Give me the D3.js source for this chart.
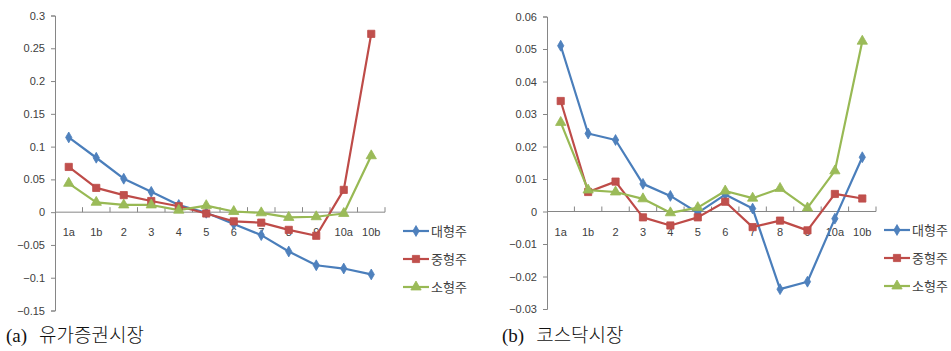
<!DOCTYPE html>
<html>
<head>
<meta charset="utf-8">
<script src="https://cdn.jsdelivr.net/npm/d3@7/dist/d3.min.js"></script>
<style>
  html, body { margin: 0; padding: 0; background: #fff; }
  svg { display: block; }
</style>
</head>
<body>
<svg id="chart" width="951" height="351"></svg>
<script>
// ---- data ----
const categories = ["1a", "1b", "2", "3", "4", "5", "6", "7", "8", "9", "10a", "10b"];
const seriesNames = ["대형주", "중형주", "소형주"];

// (a) 유가증권시장
const kospiLarge = [0.114, 0.083, 0.051, 0.031, 0.011, -0.001, -0.018, -0.035, -0.060, -0.081, -0.086, -0.095];
const kospiMid   = [0.069, 0.037, 0.026, 0.017, 0.009, -0.002, -0.014, -0.016, -0.027, -0.036, 0.034, 0.272];
const kospiSmall = [0.044, 0.015, 0.011, 0.011, 0.003, 0.010, 0.001, -0.001, -0.008, -0.007, -0.002, 0.086];
const kospiTicks = [0.3, 0.25, 0.2, 0.15, 0.1, 0.05, 0, -0.05, -0.1, -0.15];

// (b) 코스닥시장
const kosdaqLarge = [0.051, 0.024, 0.022, 0.0085, 0.0048, -0.0004, 0.0052, 0.0009, -0.0239, -0.0216, -0.0022, 0.0167];
const kosdaqMid   = [0.034, 0.006, 0.0092, -0.0018, -0.0043, -0.0018, 0.0030, -0.0048, -0.0028, -0.0058, 0.0054, 0.0040];
const kosdaqSmall = [0.0274, 0.0066, 0.0060, 0.0039, -0.0004, 0.0012, 0.0063, 0.0041, 0.0071, 0.0011, 0.0125, 0.0524];
const kosdaqTicks = [0.06, 0.05, 0.04, 0.03, 0.02, 0.01, 0, -0.01, -0.02, -0.03];

const captionLabels = ["(a)", "(b)"];
const captionTitles = ["유가증권시장", "코스닥시장"];

// ---- styles ----
const lineColors = ["#4A7EBB", "#BE4B48", "#98B954"];
const markerColors = ["#4F81BD", "#C0504D", "#9BBB59"];
const markerTypes = [d3.symbolDiamond, d3.symbolSquare, d3.symbolTriangle];
const markerSizes = [34, 52, 46];
const axisColor = "#868686";
const tickFont = "'Liberation Sans', Arial, sans-serif";

const svg = d3.select("#chart");

function drawPanel(opts) {
  const g = svg.append("g");
  const x = d3.scaleBand().domain(categories).range([opts.x0, opts.x1]);
  const y = d3.scaleLinear().domain([opts.ticks[opts.ticks.length - 1], opts.ticks[0]]).range([opts.yBottom, opts.yTop]);

  // y axis
  const yAxis = d3.axisLeft(y).tickValues(opts.ticks).tickSize(4).tickPadding(6)
    .tickFormat(d => d3.format("")(+d.toFixed(3)));
  const ya = g.append("g").attr("transform", `translate(${opts.x0},0)`).call(yAxis);
  ya.select(".domain").attr("stroke", axisColor);
  ya.selectAll(".tick line").attr("stroke", axisColor);
  ya.selectAll(".tick text").attr("fill", "#404040").style("font-family", tickFont).style("font-size", "11px");

  // x axis at y=0 with inward ticks at category boundaries
  const y0 = y(0);
  g.append("line").attr("x1", opts.x0).attr("x2", opts.x1).attr("y1", y0).attr("y2", y0).attr("stroke", axisColor);
  const bounds = categories.map(c => x(c) + x.bandwidth());
  g.selectAll(".xt").data(bounds).enter().append("line")
    .attr("x1", d => d).attr("x2", d => d).attr("y1", y0 - 5).attr("y2", y0).attr("stroke", axisColor);
  g.selectAll(".xl").data(categories).enter().append("text")
    .attr("x", d => x(d) + x.bandwidth() / 2).attr("y", y0 + 24)
    .attr("text-anchor", "middle").attr("fill", "#404040")
    .style("font-family", tickFont).style("font-size", "11px").text(d => d);

  // lines
  const line = d3.line().x((d, i) => x(categories[i]) + x.bandwidth() / 2).y(d => y(d));
  opts.series.forEach((s, k) => {
    g.append("path").datum(s).attr("d", line).attr("fill", "none")
      .attr("stroke", lineColors[k]).attr("stroke-width", 2.2).attr("stroke-linejoin", "round");
  });
  opts.series.forEach((s, k) => {
    g.selectAll(".m" + k).data(s).enter().append("path")
      .attr("d", d3.symbol().type(markerTypes[k]).size(markerSizes[k]))
      .attr("transform", (d, i) => `translate(${x(categories[i]) + x.bandwidth() / 2},${y(d)})`)
      .attr("fill", markerColors[k]).attr("stroke", lineColors[k]).attr("stroke-width", 0.8);
  });

  // legend
  seriesNames.forEach((name, k) => {
    const ly = opts.legendY + k * 28;
    const lg = g.append("g");
    lg.append("line").attr("x1", opts.legendX).attr("x2", opts.legendX + 26)
      .attr("y1", ly).attr("y2", ly).attr("stroke", lineColors[k]).attr("stroke-width", 2.2);
    lg.append("path").attr("d", d3.symbol().type(markerTypes[k]).size(markerSizes[k]))
      .attr("transform", `translate(${opts.legendX + 13},${ly})`)
      .attr("fill", markerColors[k]).attr("stroke", lineColors[k]).attr("stroke-width", 0.8);
    lg.append("text").attr("x", opts.legendX + 28).attr("y", ly + 5)
      .attr("fill", "#404040").style("font-family", "'Noto Sans CJK KR', sans-serif").style("font-size", "13px")
      .text(name);
  });

  // caption
  const cap = g.append("text").attr("x", opts.capX).attr("y", 342)
    .attr("fill", "#111").style("font-size", "19px");
  cap.append("tspan").style("font-family", "'Liberation Serif', serif").text(opts.capLabel);
  cap.append("tspan").attr("dx", 12).style("font-family", "'Noto Sans CJK KR', sans-serif")
    .style("font-weight", "300").text(opts.capTitle);
}

drawPanel({
  x0: 55, x1: 385, yTop: 15.5, yBottom: 310.5, ticks: kospiTicks,
  series: [kospiLarge, kospiMid, kospiSmall],
  legendX: 403, legendY: 231, capX: 6, capLabel: captionLabels[0], capTitle: captionTitles[0]
});
drawPanel({
  x0: 547, x1: 876, yTop: 16.5, yBottom: 309, ticks: kosdaqTicks,
  series: [kosdaqLarge, kosdaqMid, kosdaqSmall],
  legendX: 884, legendY: 230, capX: 502, capLabel: captionLabels[1], capTitle: captionTitles[1]
});
</script>
</body>
</html>
